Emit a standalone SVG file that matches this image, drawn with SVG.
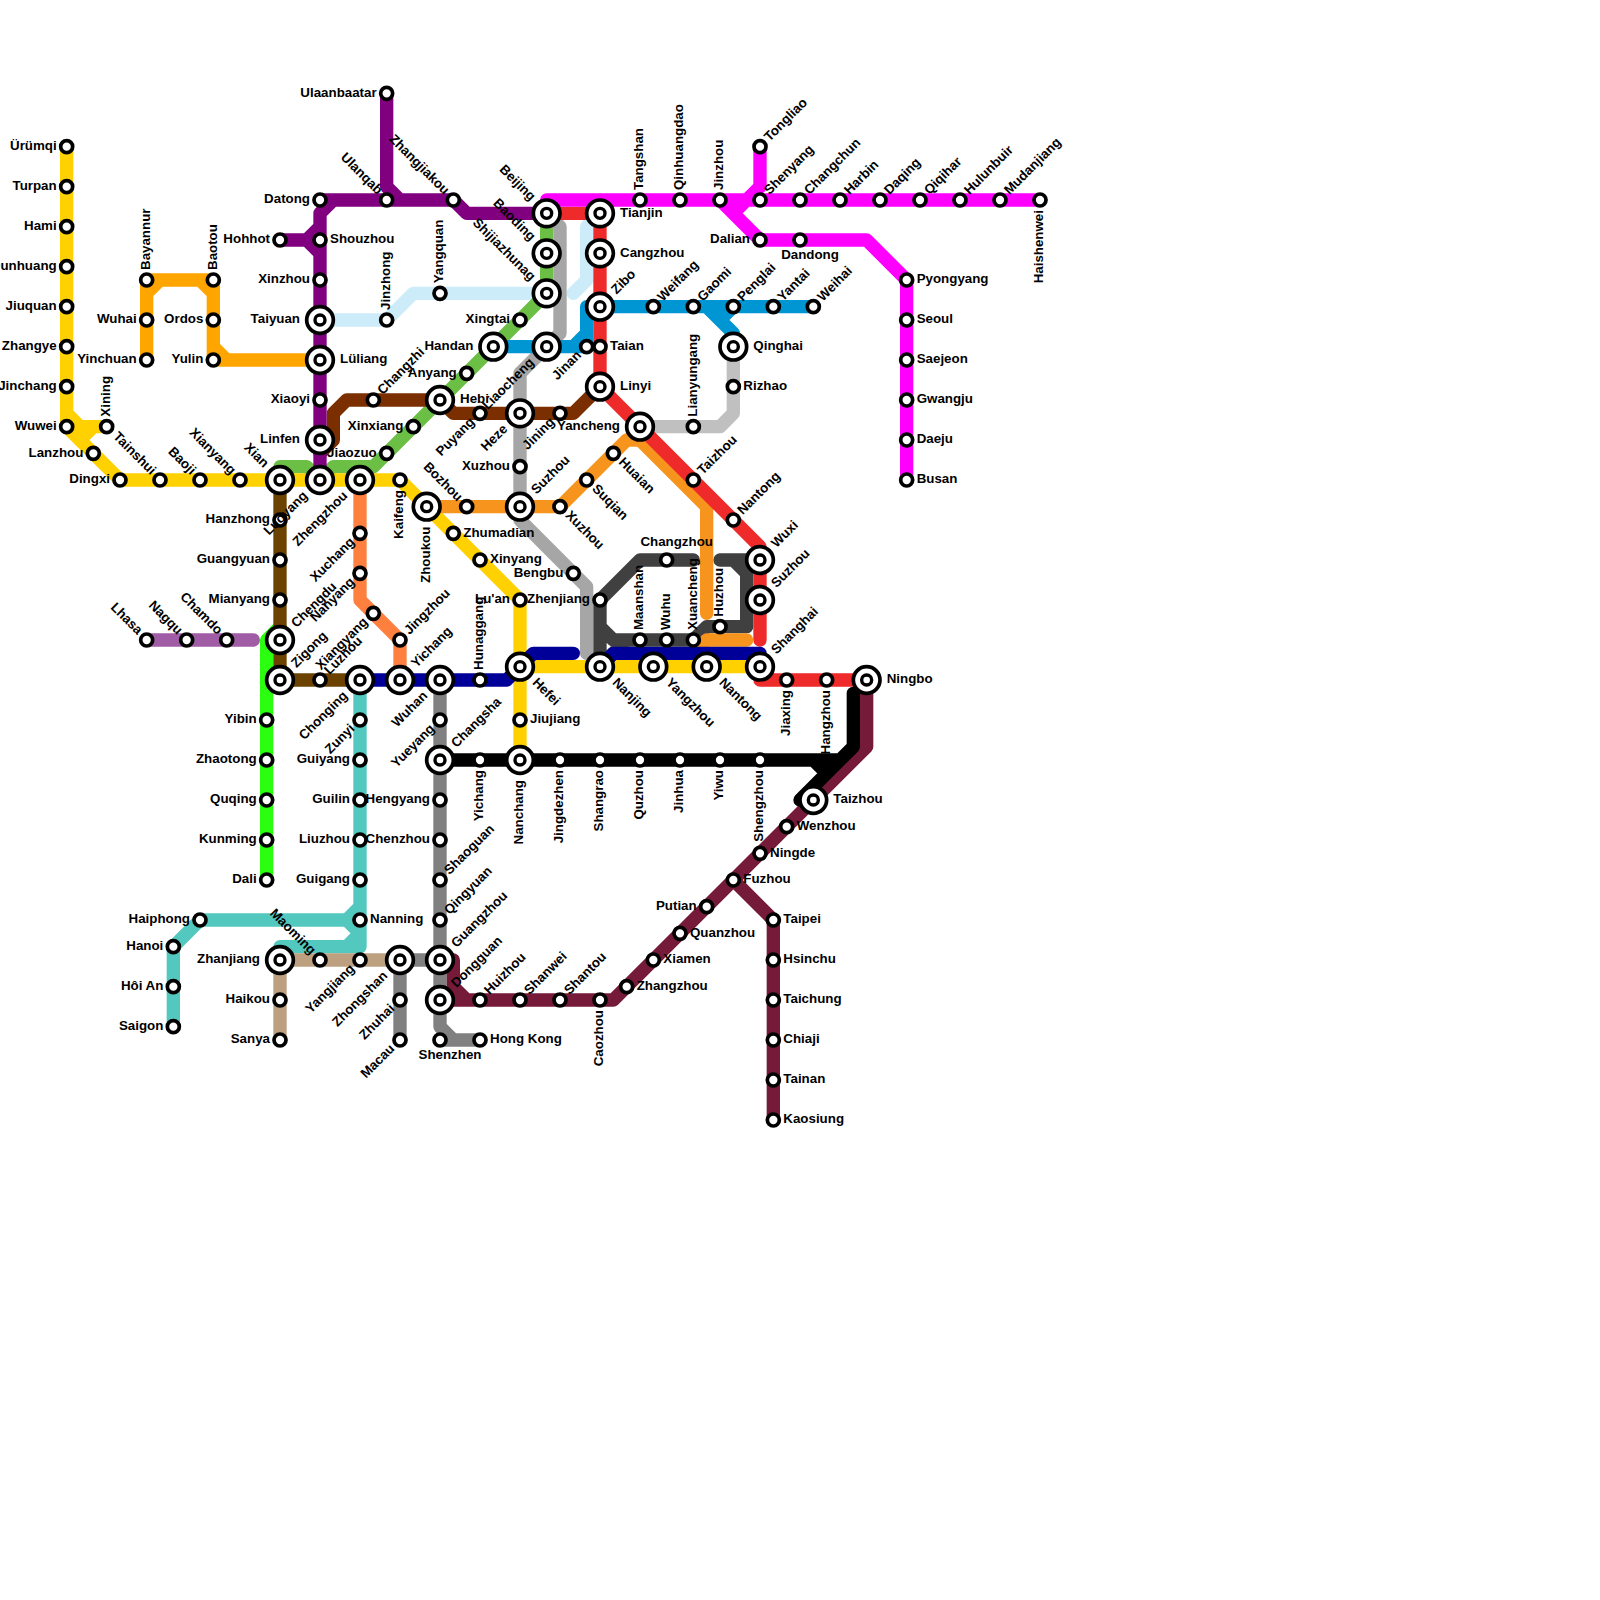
<svg xmlns="http://www.w3.org/2000/svg" width="1600" height="1600" viewBox="0 0 1600 1600">
<style>
text{font-family:"Liberation Sans",Arial,sans-serif;font-weight:bold;font-size:13.33px;fill:#000}
.e{text-anchor:end}
.c{text-anchor:middle}
.ln{fill:none;stroke-width:1;stroke-linecap:round;stroke-linejoin:round}
</style>
<defs>
<g id="s"><circle r="6" fill="#fff" stroke="#000" stroke-width="3.7"/></g>
<g id="i"><circle r="13.33" fill="#fff" stroke="#000" stroke-width="3.7"/><circle r="5" fill="#fff" stroke="#000" stroke-width="3.4"/></g>
</defs>
<rect width="1600" height="1600" fill="#fff"/>
<g id="connectors" class="ln" transform="scale(13.3333)">
<path stroke="#52c8be" d="M13 77V71L15 69H26L27 68M27 51V71M26 69L27 70M21 72V71H26L27 70M26 71H27"/>
<path stroke="#bca080" d="M21 78V72H30"/>
<path stroke="#808080" d="M33 51V77L34 78H36M33 78H34M30 78V72H33"/>
<path stroke="#2bff0f" d="M21 47L20 48V66"/>
<path stroke="#a05ca5" d="M11 48H19"/>
<path stroke="#6b4200" d="M21 36V51H27"/>
<path stroke="#ffa500" d="M11 27V22L12 21H15L16 22V26L17 27H24M11 21H16M11 21V22M16 21V27H17"/>
<path stroke="#ccecf9" d="M24 24H29L31 22H41M43 22L44 21V17L45 16"/>
<path stroke="#6cbf45" d="M21 36V35H23L24 36L25 35H28L41 22V16"/>
<path stroke="#7b2f00" d="M24 34L25 33V31L26 30H33L34 31H43L45 29"/>
<path stroke="#800080" d="M29 7V14L30 15M24 15H34L35 16H41M24 36V16L25 15M21 18H23L24 17M23 18L24 19"/>
<path stroke="#ff7f3f" d="M27 36V45L30 48V51"/>
<path stroke="#ffd100" d="M5 11V32L9 36H30L39 45V57M5 31L6 32H8M6 33L7 32M39 50H57"/>
<path stroke="#a6a6a6" d="M41 16L42 17V25L39 28V39L44 44V49"/>
<path stroke="#c0c0c0" d="M48 32H54L55 31V26"/>
<path stroke="#0095d3" d="M37 26H43L44 25V23H61M43 26H44V25M53 23L55 25V26M55 23L54 24"/>
<path stroke="#404040" d="M52 42H48L45 45V50L47 48H52L53 47H56V43L55 42M54 42H57M45 47L46 48H47"/>
<path stroke="#f7941d" d="M32 38H42L47 33H48L53 38V46M52 49L53 48H56"/>
<path stroke="#ee2a2a" d="M41 16H45V29L57 41V48M57 50V51H64"/>
<path stroke="#000099" d="M27 51H38L40 49H43M45 50L46 49H57V50"/>
<path stroke="#ff00ff" d="M41 16V15H78M57 11V14L55 16M54 15L57 18H65L68 21V36"/>
<path stroke="#761a3a" d="M65 51V56L46 75H35L34 74V72H33M33 75H35M55 66L58 69V84"/>
<path stroke="#000" d="M33 57H63M61 57L62 58M64 52V56L60 60H61"/>
</g>
<g id="stations-small">
<g id="urumqi" transform="translate(66.67 146.67)"><use href="#s"/><text class="e" x="-10" y="3.3">Ürümqi</text></g>
<g id="turpan" transform="translate(66.67 186.67)"><use href="#s"/><text class="e" x="-10" y="3.3">Turpan</text></g>
<g id="hami" transform="translate(66.67 226.67)"><use href="#s"/><text class="e" x="-10" y="3.3">Hami</text></g>
<g id="dunhuang" transform="translate(66.67 266.67)"><use href="#s"/><text class="e" x="-10" y="3.3">Dunhuang</text></g>
<g id="jiuquan" transform="translate(66.67 306.67)"><use href="#s"/><text class="e" x="-10" y="3.3">Jiuquan</text></g>
<g id="zhangye" transform="translate(66.67 346.67)"><use href="#s"/><text class="e" x="-10" y="3.3">Zhangye</text></g>
<g id="jinchang" transform="translate(66.67 386.67)"><use href="#s"/><text class="e" x="-10" y="3.3">Jinchang</text></g>
<g id="wuwei" transform="translate(66.67 426.67)"><use href="#s"/><text class="e" x="-10" y="3.3">Wuwei</text></g>
<g id="xining" transform="translate(106.67 426.67)"><use href="#s"/><text transform="rotate(-90)" x="10" y="3.3">Xining</text></g>
<g id="lanzhou" transform="translate(93.33 453.33)"><use href="#s"/><text class="e" x="-10" y="3.3">Lanzhou</text></g>
<g id="dingxi" transform="translate(120 480)"><use href="#s"/><text class="e" x="-10" y="3.3">Dingxi</text></g>
<g id="tainshui" transform="translate(160 480)"><use href="#s"/><text class="e" transform="rotate(45)" x="-10" y="3.3">Tainshui</text></g>
<g id="baoji" transform="translate(200 480)"><use href="#s"/><text class="e" transform="rotate(45)" x="-10" y="3.3">Baoji</text></g>
<g id="xianyang" transform="translate(240 480)"><use href="#s"/><text class="e" transform="rotate(45)" x="-10" y="3.3">Xianyang</text></g>
<g id="bayannur" transform="translate(146.67 280)"><use href="#s"/><text transform="rotate(-90)" x="10" y="3.3">Bayannur</text></g>
<g id="wuhai" transform="translate(146.67 320)"><use href="#s"/><text class="e" x="-10" y="3.3">Wuhai</text></g>
<g id="yinchuan" transform="translate(146.67 360)"><use href="#s"/><text class="e" x="-10" y="3.3">Yinchuan</text></g>
<g id="baotou" transform="translate(213.33 280)"><use href="#s"/><text transform="rotate(-90)" x="10" y="3.3">Baotou</text></g>
<g id="ordos" transform="translate(213.33 320)"><use href="#s"/><text class="e" x="-10" y="3.3">Ordos</text></g>
<g id="yulin" transform="translate(213.33 360)"><use href="#s"/><text class="e" x="-10" y="3.3">Yulin</text></g>
<g id="ulaanbaatar" transform="translate(386.67 93.33)"><use href="#s"/><text class="e" x="-10" y="3.3">Ulaanbaatar</text></g>
<g id="datong" transform="translate(320 200)"><use href="#s"/><text class="e" x="-10" y="3.3">Datong</text></g>
<g id="ulanqab" transform="translate(386.67 200)"><use href="#s"/><text class="e" transform="rotate(45)" x="-10" y="3.3">Ulanqab</text></g>
<g id="zhangjiakou" transform="translate(453.33 200)"><use href="#s"/><text class="e" transform="rotate(45)" x="-10" y="3.3">Zhangjiakou</text></g>
<g id="hohhot" transform="translate(280 240)"><use href="#s"/><text class="e" x="-10" y="3.3">Hohhot</text></g>
<g id="shouzhou" transform="translate(320 240)"><use href="#s"/><text x="10" y="3.3">Shouzhou</text></g>
<g id="xinzhou" transform="translate(320 280)"><use href="#s"/><text class="e" x="-10" y="3.3">Xinzhou</text></g>
<g id="xiaoyi" transform="translate(320 400)"><use href="#s"/><text class="e" x="-10" y="3.3">Xiaoyi</text></g>
<g id="jinzhong" transform="translate(386.67 320)"><use href="#s"/><text transform="rotate(-90)" x="10" y="3.3">Jinzhong</text></g>
<g id="yangquan" transform="translate(440 293.33)"><use href="#s"/><text transform="rotate(-90)" x="10" y="3.3">Yangquan</text></g>
<g id="changzhi" transform="translate(373.33 400)"><use href="#s"/><text transform="rotate(-45)" x="10" y="3.3">Changzhi</text></g>
<g id="xinxiang" transform="translate(413.33 426.67)"><use href="#s"/><text class="e" x="-10" y="3.3">Xinxiang</text></g>
<g id="jiaozuo" transform="translate(386.67 453.33)"><use href="#s"/><text class="e" x="-10" y="3.3">Jiaozuo</text></g>
<g id="anyang" transform="translate(466.67 373.33)"><use href="#s"/><text class="e" x="-10" y="3.3">Anyang</text></g>
<g id="xingtai" transform="translate(520 320)"><use href="#s"/><text class="e" x="-10" y="3.3">Xingtai</text></g>
<g id="puyang" transform="translate(480 413.33)"><use href="#s"/><text class="e" transform="rotate(-45)" x="-10" y="3.3">Puyang</text></g>
<g id="jining" transform="translate(560 413.33)"><use href="#s"/><text class="e" transform="rotate(-45)" x="-10" y="3.3">Jining</text></g>
<g id="jinan" transform="translate(586.67 346.67)"><use href="#s"/><text class="e" transform="rotate(-45)" x="-10" y="3.3">Jinan</text></g>
<g id="taian" transform="translate(600 346.67)"><use href="#s"/><text x="10" y="3.3">Taian</text></g>
<g id="xuzhou-n" transform="translate(520 466.67)"><use href="#s"/><text class="e" x="-10" y="3.3">Xuzhou</text></g>
<g id="tangshan" transform="translate(640 200)"><use href="#s"/><text transform="rotate(-90)" x="10" y="3.3">Tangshan</text></g>
<g id="qinhuangdao" transform="translate(680 200)"><use href="#s"/><text transform="rotate(-90)" x="10" y="3.3">Qinhuangdao</text></g>
<g id="jinzhou" transform="translate(720 200)"><use href="#s"/><text transform="rotate(-90)" x="10" y="3.3">Jinzhou</text></g>
<g id="tongliao" transform="translate(760 146.67)"><use href="#s"/><text transform="rotate(-45)" x="10" y="3.3">Tongliao</text></g>
<g id="shenyang" transform="translate(760 200)"><use href="#s"/><text transform="rotate(-45)" x="10" y="3.3">Shenyang</text></g>
<g id="changchun" transform="translate(800 200)"><use href="#s"/><text transform="rotate(-45)" x="10" y="3.3">Changchun</text></g>
<g id="harbin" transform="translate(840 200)"><use href="#s"/><text transform="rotate(-45)" x="10" y="3.3">Harbin</text></g>
<g id="daqing" transform="translate(880 200)"><use href="#s"/><text transform="rotate(-45)" x="10" y="3.3">Daqing</text></g>
<g id="qiqihar" transform="translate(920 200)"><use href="#s"/><text transform="rotate(-45)" x="10" y="3.3">Qiqihar</text></g>
<g id="hulunbuir" transform="translate(960 200)"><use href="#s"/><text transform="rotate(-45)" x="10" y="3.3">Hulunbuir</text></g>
<g id="mudanjiang" transform="translate(1000 200)"><use href="#s"/><text transform="rotate(-45)" x="10" y="3.3">Mudanjiang</text></g>
<g id="haishenwei" transform="translate(1040 200)"><use href="#s"/><text class="e" transform="rotate(-90)" x="-10" y="3.3">Haishenwei</text></g>
<g id="dalian" transform="translate(760 240)"><use href="#s"/><text class="e" x="-10" y="3.3">Dalian</text></g>
<g id="dandong" transform="translate(800 240)"><use href="#s"/><text class="c" x="10" y="19">Dandong</text></g>
<g id="pyongyang" transform="translate(906.67 280)"><use href="#s"/><text x="10" y="3.3">Pyongyang</text></g>
<g id="seoul" transform="translate(906.67 320)"><use href="#s"/><text x="10" y="3.3">Seoul</text></g>
<g id="saejeon" transform="translate(906.67 360)"><use href="#s"/><text x="10" y="3.3">Saejeon</text></g>
<g id="gwangju" transform="translate(906.67 400)"><use href="#s"/><text x="10" y="3.3">Gwangju</text></g>
<g id="daeju" transform="translate(906.67 440)"><use href="#s"/><text x="10" y="3.3">Daeju</text></g>
<g id="busan" transform="translate(906.67 480)"><use href="#s"/><text x="10" y="3.3">Busan</text></g>
<g id="weifang" transform="translate(653.33 306.67)"><use href="#s"/><text transform="rotate(-45)" x="10" y="3.3">Weifang</text></g>
<g id="gaomi" transform="translate(693.33 306.67)"><use href="#s"/><text transform="rotate(-45)" x="10" y="3.3">Gaomi</text></g>
<g id="penglai" transform="translate(733.33 306.67)"><use href="#s"/><text transform="rotate(-45)" x="10" y="3.3">Penglai</text></g>
<g id="yantai" transform="translate(773.33 306.67)"><use href="#s"/><text transform="rotate(-45)" x="10" y="3.3">Yantai</text></g>
<g id="weihai" transform="translate(813.33 306.67)"><use href="#s"/><text transform="rotate(-45)" x="10" y="3.3">Weihai</text></g>
<g id="rizhao" transform="translate(733.33 386.67)"><use href="#s"/><text x="10" y="3.3">Rizhao</text></g>
<g id="lianyungang" transform="translate(693.33 426.67)"><use href="#s"/><text transform="rotate(-90)" x="10" y="3.3">Lianyungang</text></g>
<g id="huaian" transform="translate(613.33 453.33)"><use href="#s"/><text transform="rotate(45)" x="10" y="3.3">Huaian</text></g>
<g id="suqian" transform="translate(586.67 480)"><use href="#s"/><text transform="rotate(45)" x="10" y="3.3">Suqian</text></g>
<g id="xuzhou-e" transform="translate(560 506.67)"><use href="#s"/><text transform="rotate(45)" x="10" y="3.3">Xuzhou</text></g>
<g id="taizhou-n" transform="translate(693.33 480)"><use href="#s"/><text transform="rotate(-45)" x="10" y="3.3">Taizhou</text></g>
<g id="nantong-n" transform="translate(733.33 520)"><use href="#s"/><text transform="rotate(-45)" x="10" y="3.3">Nantong</text></g>
<g id="kaifeng" transform="translate(400 480)"><use href="#s"/><text class="e" transform="rotate(-90)" x="-10" y="3.3">Kaifeng</text></g>
<g id="bozhou" transform="translate(466.67 506.67)"><use href="#s"/><text class="e" transform="rotate(45)" x="-10" y="3.3">Bozhou</text></g>
<g id="zhumadian" transform="translate(453.33 533.33)"><use href="#s"/><text x="10" y="3.3">Zhumadian</text></g>
<g id="xinyang" transform="translate(480 560)"><use href="#s"/><text x="10" y="3.3">Xinyang</text></g>
<g id="bengbu" transform="translate(573.33 573.33)"><use href="#s"/><text class="e" x="-10" y="3.3">Bengbu</text></g>
<g id="luan" transform="translate(520 600)"><use href="#s"/><text class="e" x="-10" y="3.3">Lu'an</text></g>
<g id="zhenjiang" transform="translate(600 600)"><use href="#s"/><text class="e" x="-10" y="3.3">Zhenjiang</text></g>
<g id="changzhou" transform="translate(666.67 560)"><use href="#s"/><text class="c" x="10" y="-14">Changzhou</text></g>
<g id="maanshan" transform="translate(640 640)"><use href="#s"/><text transform="rotate(-90)" x="10" y="3.3">Maanshan</text></g>
<g id="wuhu" transform="translate(666.67 640)"><use href="#s"/><text transform="rotate(-90)" x="10" y="3.3">Wuhu</text></g>
<g id="xuancheng" transform="translate(693.33 640)"><use href="#s"/><text transform="rotate(-90)" x="10" y="3.3">Xuancheng</text></g>
<g id="huzhou" transform="translate(720 626.67)"><use href="#s"/><text transform="rotate(-90)" x="10" y="3.3">Huzhou</text></g>
<g id="jiaxing" transform="translate(786.67 680)"><use href="#s"/><text class="e" transform="rotate(-90)" x="-10" y="3.3">Jiaxing</text></g>
<g id="hangzhou" transform="translate(826.67 680)"><use href="#s"/><text class="e" transform="rotate(-90)" x="-10" y="3.3">Hangzhou</text></g>
<g id="hanzhong" transform="translate(280 520)"><use href="#s"/><text class="e" x="-10" y="3.3">Hanzhong</text></g>
<g id="guangyuan" transform="translate(280 560)"><use href="#s"/><text class="e" x="-10" y="3.3">Guangyuan</text></g>
<g id="mianyang" transform="translate(280 600)"><use href="#s"/><text class="e" x="-10" y="3.3">Mianyang</text></g>
<g id="lhasa" transform="translate(146.67 640)"><use href="#s"/><text class="e" transform="rotate(45)" x="-10" y="3.3">Lhasa</text></g>
<g id="nagqu" transform="translate(186.67 640)"><use href="#s"/><text class="e" transform="rotate(45)" x="-10" y="3.3">Nagqu</text></g>
<g id="chamdo" transform="translate(226.67 640)"><use href="#s"/><text class="e" transform="rotate(45)" x="-10" y="3.3">Chamdo</text></g>
<g id="xuchang" transform="translate(360 533.33)"><use href="#s"/><text class="e" transform="rotate(-45)" x="-10" y="3.3">Xuchang</text></g>
<g id="nanyang" transform="translate(360 573.33)"><use href="#s"/><text class="e" transform="rotate(-45)" x="-10" y="3.3">Nanyang</text></g>
<g id="xiangyang" transform="translate(373.33 613.33)"><use href="#s"/><text class="e" transform="rotate(-45)" x="-10" y="3.3">Xiangyang</text></g>
<g id="jingzhou" transform="translate(400 640)"><use href="#s"/><text transform="rotate(-45)" x="10" y="3.3">Jingzhou</text></g>
<g id="luzhou" transform="translate(320 680)"><use href="#s"/><text transform="rotate(-45)" x="10" y="3.3">Luzhou</text></g>
<g id="hunaggang" transform="translate(480 680)"><use href="#s"/><text transform="rotate(-90)" x="10" y="3.3">Hunaggang</text></g>
<g id="jiujiang" transform="translate(520 720)"><use href="#s"/><text x="10" y="3.3">Jiujiang</text></g>
<g id="yibin" transform="translate(266.67 720)"><use href="#s"/><text class="e" x="-10" y="3.3">Yibin</text></g>
<g id="zhaotong" transform="translate(266.67 760)"><use href="#s"/><text class="e" x="-10" y="3.3">Zhaotong</text></g>
<g id="quqing" transform="translate(266.67 800)"><use href="#s"/><text class="e" x="-10" y="3.3">Quqing</text></g>
<g id="kunming" transform="translate(266.67 840)"><use href="#s"/><text class="e" x="-10" y="3.3">Kunming</text></g>
<g id="dali" transform="translate(266.67 880)"><use href="#s"/><text class="e" x="-10" y="3.3">Dali</text></g>
<g id="zunyi" transform="translate(360 720)"><use href="#s"/><text class="e" transform="rotate(-45)" x="-10" y="3.3">Zunyi</text></g>
<g id="guiyang" transform="translate(360 760)"><use href="#s"/><text class="e" x="-10" y="3.3">Guiyang</text></g>
<g id="guilin" transform="translate(360 800)"><use href="#s"/><text class="e" x="-10" y="3.3">Guilin</text></g>
<g id="liuzhou" transform="translate(360 840)"><use href="#s"/><text class="e" x="-10" y="3.3">Liuzhou</text></g>
<g id="guigang" transform="translate(360 880)"><use href="#s"/><text class="e" x="-10" y="3.3">Guigang</text></g>
<g id="nanning" transform="translate(360 920)"><use href="#s"/><text x="10" y="3.3">Nanning</text></g>
<g id="haiphong" transform="translate(200 920)"><use href="#s"/><text class="e" x="-10" y="3.3">Haiphong</text></g>
<g id="hanoi" transform="translate(173.33 946.67)"><use href="#s"/><text class="e" x="-10" y="3.3">Hanoi</text></g>
<g id="hoian" transform="translate(173.33 986.67)"><use href="#s"/><text class="e" x="-10" y="3.3">Hôi An</text></g>
<g id="saigon" transform="translate(173.33 1026.67)"><use href="#s"/><text class="e" x="-10" y="3.3">Saigon</text></g>
<g id="maoming" transform="translate(320 960)"><use href="#s"/><text class="e" transform="rotate(45)" x="-10" y="3.3">Maoming</text></g>
<g id="yangjiang" transform="translate(360 960)"><use href="#s"/><text class="e" transform="rotate(-45)" x="-10" y="3.3">Yangjiang</text></g>
<g id="haikou" transform="translate(280 1000)"><use href="#s"/><text class="e" x="-10" y="3.3">Haikou</text></g>
<g id="sanya" transform="translate(280 1040)"><use href="#s"/><text class="e" x="-10" y="3.3">Sanya</text></g>
<g id="zhuhai" transform="translate(400 1000)"><use href="#s"/><text class="e" transform="rotate(-45)" x="-10" y="3.3">Zhuhai</text></g>
<g id="macau" transform="translate(400 1040)"><use href="#s"/><text class="e" transform="rotate(-45)" x="-10" y="3.3">Macau</text></g>
<g id="yueyang" transform="translate(440 720)"><use href="#s"/><text class="e" transform="rotate(-45)" x="-10" y="3.3">Yueyang</text></g>
<g id="hengyang" transform="translate(440 800)"><use href="#s"/><text class="e" x="-10" y="3.3">Hengyang</text></g>
<g id="chenzhou" transform="translate(440 840)"><use href="#s"/><text class="e" x="-10" y="3.3">Chenzhou</text></g>
<g id="shaoguan" transform="translate(440 880)"><use href="#s"/><text transform="rotate(-45)" x="10" y="3.3">Shaoguan</text></g>
<g id="qingyuan" transform="translate(440 920)"><use href="#s"/><text transform="rotate(-45)" x="10" y="3.3">Qingyuan</text></g>
<g id="shenzhen" transform="translate(440 1040)"><use href="#s"/><text class="c" x="10" y="19">Shenzhen</text></g>
<g id="hongkong" transform="translate(480 1040)"><use href="#s"/><text x="10" y="3.3">Hong Kong</text></g>
<g id="yichang-s" transform="translate(480 760)"><use href="#s"/><text class="e" transform="rotate(-90)" x="-10" y="3.3">Yichang</text></g>
<g id="jingdezhen" transform="translate(560 760)"><use href="#s"/><text class="e" transform="rotate(-90)" x="-10" y="3.3">Jingdezhen</text></g>
<g id="shangrao" transform="translate(600 760)"><use href="#s"/><text class="e" transform="rotate(-90)" x="-10" y="3.3">Shangrao</text></g>
<g id="quzhou" transform="translate(640 760)"><use href="#s"/><text class="e" transform="rotate(-90)" x="-10" y="3.3">Quzhou</text></g>
<g id="jinhua" transform="translate(680 760)"><use href="#s"/><text class="e" transform="rotate(-90)" x="-10" y="3.3">Jinhua</text></g>
<g id="yiwu" transform="translate(720 760)"><use href="#s"/><text class="e" transform="rotate(-90)" x="-10" y="3.3">Yiwu</text></g>
<g id="shengzhou" transform="translate(760 760)"><use href="#s"/><text class="e" transform="rotate(-90)" x="-10" y="3.3">Shengzhou</text></g>
<g id="wenzhou" transform="translate(786.67 826.67)"><use href="#s"/><text x="10" y="3.3">Wenzhou</text></g>
<g id="ningde" transform="translate(760 853.33)"><use href="#s"/><text x="10" y="3.3">Ningde</text></g>
<g id="fuzhou" transform="translate(733.33 880)"><use href="#s"/><text x="10" y="3.3">Fuzhou</text></g>
<g id="putian" transform="translate(706.67 906.67)"><use href="#s"/><text class="e" x="-10" y="3.3">Putian</text></g>
<g id="quanzhou" transform="translate(680 933.33)"><use href="#s"/><text x="10" y="3.3">Quanzhou</text></g>
<g id="xiamen" transform="translate(653.33 960)"><use href="#s"/><text x="10" y="3.3">Xiamen</text></g>
<g id="zhangzhou" transform="translate(626.67 986.67)"><use href="#s"/><text x="10" y="3.3">Zhangzhou</text></g>
<g id="caozhou" transform="translate(600 1000)"><use href="#s"/><text class="e" transform="rotate(-90)" x="-10" y="3.3">Caozhou</text></g>
<g id="shantou" transform="translate(560 1000)"><use href="#s"/><text transform="rotate(-45)" x="10" y="3.3">Shantou</text></g>
<g id="shanwei" transform="translate(520 1000)"><use href="#s"/><text transform="rotate(-45)" x="10" y="3.3">Shanwei</text></g>
<g id="huizhou" transform="translate(480 1000)"><use href="#s"/><text transform="rotate(-45)" x="10" y="3.3">Huizhou</text></g>
<g id="taipei" transform="translate(773.33 920)"><use href="#s"/><text x="10" y="3.3">Taipei</text></g>
<g id="hsinchu" transform="translate(773.33 960)"><use href="#s"/><text x="10" y="3.3">Hsinchu</text></g>
<g id="taichung" transform="translate(773.33 1000)"><use href="#s"/><text x="10" y="3.3">Taichung</text></g>
<g id="chiaji" transform="translate(773.33 1040)"><use href="#s"/><text x="10" y="3.3">Chiaji</text></g>
<g id="tainan" transform="translate(773.33 1080)"><use href="#s"/><text x="10" y="3.3">Tainan</text></g>
<g id="kaosiung" transform="translate(773.33 1120)"><use href="#s"/><text x="10" y="3.3">Kaosiung</text></g>
</g>
<g id="stations-interchange">
<g id="taiyuan" transform="translate(320 320)"><use href="#i"/><text class="e" x="-20" y="3.3">Taiyuan</text></g>
<g id="luliang" transform="translate(320 360)"><use href="#i"/><text x="20" y="3.3">Lüliang</text></g>
<g id="linfen" transform="translate(320 440)"><use href="#i"/><text class="e" x="-20" y="3.3">Linfen</text></g>
<g id="xian" transform="translate(280 480)"><use href="#i"/><text class="e" transform="rotate(45)" x="-20" y="3.3">Xian</text></g>
<g id="luoyang" transform="translate(320 480)"><use href="#i"/><text class="e" transform="rotate(-45)" x="-20" y="3.3">Luoyang</text></g>
<g id="zhengzhou" transform="translate(360 480)"><use href="#i"/><text class="e" transform="rotate(-45)" x="-20" y="3.3">Zhengzhou</text></g>
<g id="chengdu" transform="translate(280 640)"><use href="#i"/><text transform="rotate(-45)" x="20" y="3.3">Chengdu</text></g>
<g id="zigong" transform="translate(280 680)"><use href="#i"/><text transform="rotate(-45)" x="20" y="3.3">Zigong</text></g>
<g id="chonging" transform="translate(360 680)"><use href="#i"/><text class="e" transform="rotate(-45)" x="-20" y="3.3">Chonging</text></g>
<g id="yichang" transform="translate(400 680)"><use href="#i"/><text transform="rotate(-45)" x="20" y="3.3">Yichang</text></g>
<g id="wuhan" transform="translate(440 680)"><use href="#i"/><text class="e" transform="rotate(-45)" x="-20" y="3.3">Wuhan</text></g>
<g id="changsha" transform="translate(440 760)"><use href="#i"/><text transform="rotate(-45)" x="20" y="3.3">Changsha</text></g>
<g id="zhanjiang" transform="translate(280 960)"><use href="#i"/><text class="e" x="-20" y="3.3">Zhanjiang</text></g>
<g id="zhongshan" transform="translate(400 960)"><use href="#i"/><text class="e" transform="rotate(-45)" x="-20" y="3.3">Zhongshan</text></g>
<g id="guangzhou" transform="translate(440 960)"><use href="#i"/><text transform="rotate(-45)" x="20" y="3.3">Guangzhou</text></g>
<g id="dongguan" transform="translate(440 1000)"><use href="#i"/><text transform="rotate(-45)" x="20" y="3.3">Dongguan</text></g>
<g id="beijing" transform="translate(546.67 213.33)"><use href="#i"/><text class="e" transform="rotate(45)" x="-20" y="3.3">Beijing</text></g>
<g id="baoding" transform="translate(546.67 253.33)"><use href="#i"/><text class="e" transform="rotate(45)" x="-20" y="3.3">Baoding</text></g>
<g id="shijiazhunag" transform="translate(546.67 293.33)"><use href="#i"/><text class="e" transform="rotate(45)" x="-20" y="3.3">Shijiazhunag</text></g>
<g id="liaocheng" transform="translate(546.67 346.67)"><use href="#i"/><text class="e" transform="rotate(-45)" x="-20" y="3.3">Liaocheng</text></g>
<g id="handan" transform="translate(493.33 346.67)"><use href="#i"/><text class="e" x="-20" y="3.3">Handan</text></g>
<g id="hebi" transform="translate(440 400)"><use href="#i"/><text x="20" y="3.3">Hebi</text></g>
<g id="heze" transform="translate(520 413.33)"><use href="#i"/><text class="e" transform="rotate(-45)" x="-20" y="3.3">Heze</text></g>
<g id="tianjin" transform="translate(600 213.33)"><use href="#i"/><text x="20" y="3.3">Tianjin</text></g>
<g id="cangzhou" transform="translate(600 253.33)"><use href="#i"/><text x="20" y="3.3">Cangzhou</text></g>
<g id="zibo" transform="translate(600 306.67)"><use href="#i"/><text transform="rotate(-45)" x="20" y="3.3">Zibo</text></g>
<g id="linyi" transform="translate(600 386.67)"><use href="#i"/><text x="20" y="3.3">Linyi</text></g>
<g id="yancheng" transform="translate(640 426.67)"><use href="#i"/><text class="e" x="-20" y="3.3">Yancheng</text></g>
<g id="qinghai" transform="translate(733.33 346.67)"><use href="#i"/><text x="20" y="3.3">Qinghai</text></g>
<g id="zhoukou" transform="translate(426.67 506.67)"><use href="#i"/><text class="e" transform="rotate(-90)" x="-20" y="3.3">Zhoukou</text></g>
<g id="suzhou-n" transform="translate(520 506.67)"><use href="#i"/><text transform="rotate(-45)" x="20" y="3.3">Suzhou</text></g>
<g id="wuxi" transform="translate(760 560)"><use href="#i"/><text transform="rotate(-45)" x="20" y="3.3">Wuxi</text></g>
<g id="suzhou" transform="translate(760 600)"><use href="#i"/><text transform="rotate(-45)" x="20" y="3.3">Suzhou</text></g>
<g id="shanghai" transform="translate(760 666.67)"><use href="#i"/><text transform="rotate(-45)" x="20" y="3.3">Shanghai</text></g>
<g id="hefei" transform="translate(520 666.67)"><use href="#i"/><text transform="rotate(45)" x="20" y="3.3">Hefei</text></g>
<g id="nanjing" transform="translate(600 666.67)"><use href="#i"/><text transform="rotate(45)" x="20" y="3.3">Nanjing</text></g>
<g id="yangzhou" transform="translate(653.33 666.67)"><use href="#i"/><text transform="rotate(45)" x="20" y="3.3">Yangzhou</text></g>
<g id="nantong" transform="translate(706.67 666.67)"><use href="#i"/><text transform="rotate(45)" x="20" y="3.3">Nantong</text></g>
<g id="nanchang" transform="translate(520 760)"><use href="#i"/><text class="e" transform="rotate(-90)" x="-20" y="3.3">Nanchang</text></g>
<g id="ningbo" transform="translate(866.67 680)"><use href="#i"/><text x="20" y="3.3">Ningbo</text></g>
<g id="taizhou" transform="translate(813.33 800)"><use href="#i"/><text x="20" y="3.3">Taizhou</text></g>
</g>
</svg>
